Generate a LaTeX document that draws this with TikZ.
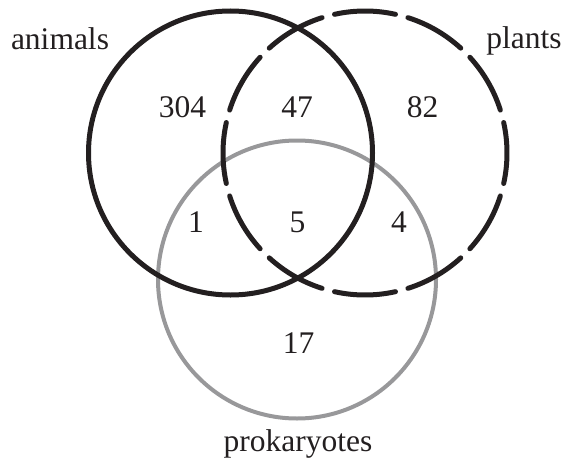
\documentclass[tikz,border=0pt]{standalone}
\usepackage{fontspec}
\setmainfont{Liberation Serif}
\definecolor{ink}{RGB}{35,31,32}
\definecolor{prokgray}{RGB}{152,152,154}
\begin{document}
\begin{tikzpicture}[x=1pt,y=-1pt,
  lbl/.style={anchor=base,inner sep=0pt,text=ink,font=\fontsize{31.5}{36}\selectfont},
  solidring/.style={draw=ink,line width=5pt},
  dashring/.style={draw=ink,line width=5pt,line cap=round},
  grayring/.style={draw=prokgray,line width=4pt}]
\useasboundingbox (0,0) rectangle (565,463);
% prokaryotes
\draw[grayring] (297,279.5) circle[radius=139];
% animals
\draw[solidring] (230.5,153) circle[radius=142];
% plants (dashed)
\foreach \t in {0,30,...,330}
  \draw[dashring] ([shift={(\t-12.4:142)}]365,153) arc[start angle=\t-12.4,end angle=\t+12.4,radius=142];
% labels
\node[lbl] (animals) at (60,49) {animals};
\node[lbl] (plants) at (524,48) {plants};
\node[lbl] (prok) at (298,451) {prokaryotes};
\node[lbl] (n304) at (182.5,117) {304};
\node[lbl] (n47) at (297,117) {47};
\node[lbl] (n82) at (422.5,117) {82};
\node[lbl] (n1) at (196,232) {1};
\node[lbl] (n5) at (297.5,232) {5};
\node[lbl] (n4) at (399,232) {4};
\node[lbl] (n17) at (298.5,353) {17};
\end{tikzpicture}
\end{document}
